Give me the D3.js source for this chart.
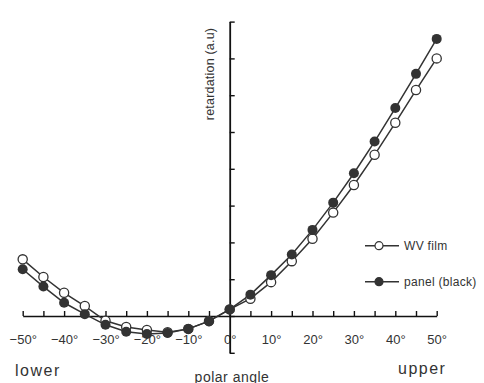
<!DOCTYPE html>
<html>
<head>
<meta charset="utf-8">
<script src="https://cdn.jsdelivr.net/npm/d3@7"></script>
<style>
  body { margin: 0; background: #fff; }
  text { font-family: "Liberation Sans", Arial, sans-serif; fill: #333; }
</style>
</head>
<body>
<div id="vis"></div>
<script>
// polar angle in degrees
var angles = [-50, -45, -40, -35, -30, -25, -20, -15, -10, -5, 0, 5, 10, 15, 20, 25, 30, 35, 40, 45, 50];
// retardation (a.u)
var wvFilm = [1.54, 1.06, 0.63, 0.27, -0.13, -0.30, -0.38, -0.44, -0.35, -0.14, 0.18, 0.47, 0.92, 1.49, 2.10, 2.81, 3.56, 4.38, 5.25, 6.14, 7.00];
var panel = [1.27, 0.80, 0.36, 0.05, -0.24, -0.43, -0.49, -0.46, -0.35, -0.14, 0.18, 0.58, 1.11, 1.67, 2.34, 3.08, 3.88, 4.74, 5.65, 6.58, 7.53];
var xTicks = [-50, -45, -40, -35, -30, -25, -20, -15, -10, -5, 0, 5, 10, 15, 20, 25, 30, 35, 40, 45, 50];
var yTicks = [-1, 0, 1, 2, 3, 4, 5, 6, 7, 8];
var seriesNames = ["WV film", "panel (black)"];

var width = 484, height = 383;

var svg = d3.select("#vis").append("svg")
  .attr("width", width)
  .attr("height", height);

var x = d3.scaleLinear().domain([-50, 50]).range([22.7, 436.7]);
var y = d3.scaleLinear().domain([-1, 8]).range([352.8, 21.6]);

// x axis, ticks point up
var xAxis = d3.axisBottom(x)
  .tickValues(xTicks)
  .tickSizeInner(-5)
  .tickSizeOuter(0)
  .tickPadding(19)
  .tickFormat(function(d) {
    if (d % 10 !== 0) return "";
    return (d < 0 ? "\u2212" + Math.abs(d) : d) + "\u00b0";
  });

var gx = svg.append("g")
  .attr("transform", "translate(0," + y(0) + ")")
  .call(xAxis);
gx.select(".domain").attr("stroke", "#111").attr("stroke-width", 1.6);
gx.selectAll(".tick line").attr("stroke", "#111").attr("stroke-width", 1.4);
gx.selectAll(".tick text")
  .attr("font-size", 13)
  .attr("font-family", "Liberation Sans, Arial, sans-serif")
  .attr("fill", "#333");

// y axis at 0 deg, ticks point right, no labels
var yAxis = d3.axisRight(y)
  .tickValues(yTicks)
  .tickSizeInner(5)
  .tickSizeOuter(0)
  .tickFormat("");

var gy = svg.append("g")
  .attr("transform", "translate(" + x(0) + ",0)")
  .call(yAxis);
gy.select(".domain").attr("stroke", "#111").attr("stroke-width", 1.8);
gy.selectAll(".tick line").attr("stroke", "#111").attr("stroke-width", 1.4);

var line = d3.line()
  .x(function(d, i) { return x(angles[i]); })
  .y(function(d) { return y(d); });

// open circles first, filled on top
svg.append("path")
  .datum(wvFilm)
  .attr("d", line)
  .attr("fill", "none")
  .attr("stroke", "#333")
  .attr("stroke-width", 1.5);
svg.append("path")
  .datum(panel)
  .attr("d", line)
  .attr("fill", "none")
  .attr("stroke", "#333")
  .attr("stroke-width", 1.5);

svg.selectAll(".open")
  .data(wvFilm)
  .enter().append("circle")
  .attr("class", "open")
  .attr("cx", function(d, i) { return x(angles[i]); })
  .attr("cy", function(d) { return y(d); })
  .attr("r", 4.6)
  .attr("fill", "#fff")
  .attr("stroke", "#333")
  .attr("stroke-width", 1.3);

svg.selectAll(".filled")
  .data(panel)
  .enter().append("circle")
  .attr("class", "filled")
  .attr("cx", function(d, i) { return x(angles[i]); })
  .attr("cy", function(d) { return y(d); })
  .attr("r", 5)
  .attr("fill", "#333");

// legend
var legend = svg.selectAll(".legend")
  .data(seriesNames)
  .enter().append("g")
  .attr("class", "legend")
  .attr("transform", function(d, i) { return "translate(365," + (245.7 + i * 36) + ")"; });
legend.append("line")
  .attr("x1", 0).attr("x2", 34)
  .attr("stroke", "#333").attr("stroke-width", 1.5);
legend.append("circle")
  .attr("cx", 14).attr("r", 4)
  .attr("fill", function(d, i) { return i === 0 ? "#fff" : "#333"; })
  .attr("stroke", "#333").attr("stroke-width", 1.2);
legend.append("text")
  .attr("x", 39).attr("dy", "0.35em")
  .attr("font-size", 12)
  .attr("letter-spacing", 0.3)
  .text(function(d) { return d; });

// axis titles
svg.append("text")
  .attr("transform", "translate(214,74) rotate(-90)")
  .attr("text-anchor", "middle")
  .attr("font-size", 12.5)
  .attr("letter-spacing", 0.2)
  .text("retardation (a.u)");

svg.append("text")
  .attr("x", 232).attr("y", 382)
  .attr("text-anchor", "middle")
  .attr("font-size", 14)
  .attr("letter-spacing", 0.5)
  .text("polar angle");

svg.append("text")
  .attr("x", 15).attr("y", 376)
  .attr("font-size", 16)
  .attr("letter-spacing", 1.5)
  .text("lower");

svg.append("text")
  .attr("x", 398).attr("y", 374)
  .attr("font-size", 16)
  .attr("letter-spacing", 1.5)
  .text("upper");
</script>
</body>
</html>
